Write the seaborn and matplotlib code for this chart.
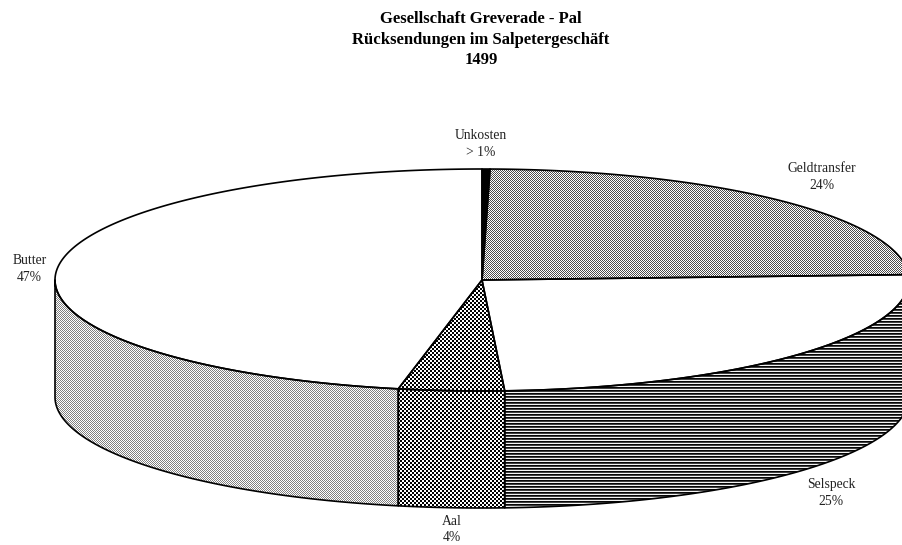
import numpy as np
import matplotlib
matplotlib.use("Agg")
import matplotlib.pyplot as plt
from matplotlib.patches import Polygon
import seaborn as sns

# Shares of the returns, clockwise from twelve o'clock
categories = ["Unkosten", "Geldtransfer", "Selspeck", "Aal", "Butter"]
shares = [0.3, 24, 25, 4, 47]
share_labels = ["> 1%", "24%", "25%", "4%", "47%"]
title_lines = ["Gesellschaft Greverade - Pal", "Rücksendungen im Salpetergeschäft", "1499"]

# Fill pattern per slice: (top face, outer wall)
FILLS = {
    "Unkosten": ("solid", "solid"),
    "Geldtransfer": ("fine", "fine"),
    "Selspeck": ("blank", "stripes"),
    "Aal": ("coarse", "coarse"),
    "Butter": ("blank", "light"),
}
# Label anchors in figure pixels
LABEL_POS = {
    "Unkosten": (481, 144),
    "Geldtransfer": (822, 177),
    "Selspeck": (831, 493),
    "Aal": (452, 529.5),
    "Butter": (29.5, 269),
}

W, H = 902, 545
CX, CY, RX, RY, DEPTH = 482, 280, 427, 111, 117

sns.set_theme(style="white", rc={"axes.grid": False})
plt.rcParams["font.family"] = ["Liberation Serif", "DejaVu Serif"]

fig = plt.figure(figsize=(W / 100, H / 100), dpi=100, facecolor="white")
ax = fig.add_axes([0, 0, 1, 1])
ax.set_xlim(0, W)
ax.set_ylim(H, 0)
ax.axis("off")

# Pixel-level shading tiles, as grey levels from 0 (black) to 1 (white)
yy, xx = np.mgrid[0:H, 0:W]
checker = (xx + yy) % 2
PATTERNS = {
    "solid": np.zeros((H, W)),
    "blank": np.ones((H, W)),
    "fine": 0.3 + 0.7 * checker,
    "coarse": ((xx // 2 + yy // 2) % 2).astype(float),
    "stripes": np.array([0.03, 0.25, 0.95])[yy % 3],
    "light": 0.5 + 0.5 * checker,
}


def rim(angles, drop=0.0):
    rad = np.radians(angles)
    return np.column_stack([CX + RX * np.sin(rad), CY + drop - RY * np.cos(rad)])


def fill_region(points, pattern):
    outline = Polygon(points, closed=True, facecolor="none", edgecolor="black",
                      linewidth=1.2, joinstyle="round", zorder=3)
    ax.add_patch(outline)
    img = ax.imshow(PATTERNS[pattern], cmap="gray", vmin=0, vmax=1, extent=(0, W, H, 0),
                    interpolation="nearest", aspect="auto", zorder=2)
    img.set_clip_path(outline)


edges = np.cumsum([0] + shares) / sum(shares) * 360
for name, start, end in zip(categories, edges[:-1], edges[1:]):
    top_fill, wall_fill = FILLS[name]
    arc = rim(np.linspace(start, end, 400))
    fill_region(np.vstack([[CX, CY], arc]), top_fill)
    lo, hi = max(start, 90), min(end, 270)
    if lo < hi:
        sweep = np.linspace(lo, hi, 400)
        fill_region(np.vstack([rim(sweep), rim(sweep[::-1], DEPTH)]), wall_fill)

ax.set_xlim(0, W)
ax.set_ylim(H, 0)

for name, text in zip(categories, share_labels):
    x, y = LABEL_POS[name]
    ax.text(x, y, f"{name}\n{text}", ha="center", va="center", fontsize=9.8,
            color="#222222", linespacing=1.38, zorder=5)

ax.text(481, 39.5, "\n".join(title_lines), ha="center", va="center", fontsize=12,
        fontweight="bold", color="black", linespacing=1.4, zorder=5)

fig.savefig("out.png", dpi=100, facecolor="white")
